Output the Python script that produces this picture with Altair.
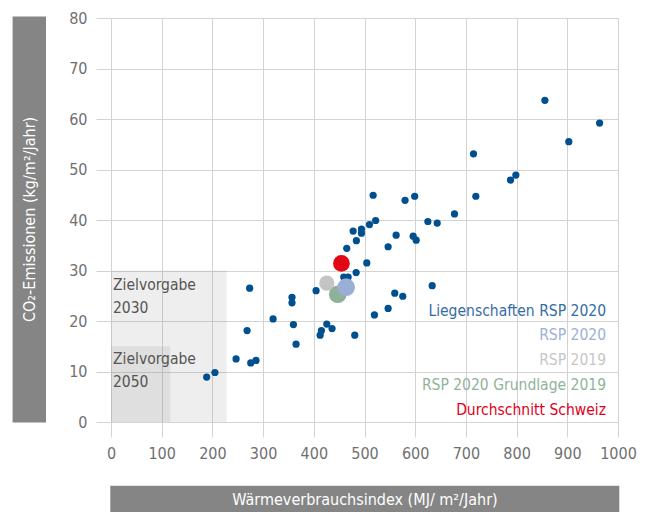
import altair as alt
import pandas as pd

# Liegenschaften RSP 2020 (Wärmeverbrauchsindex MJ/m2/Jahr, CO2 kg/m2/Jahr)
wvi = [188.7, 205, 246.7, 275.6, 286, 268.4, 273.5, 319.7, 357, 357, 359.8, 365,
       404.5, 412.5, 415, 425.6, 436, 459, 467.7, 465, 477.6, 484, 483.5, 480.8,
       494, 494, 504.5, 509.8, 517, 522, 519.6, 546.6, 546.6, 559.7, 562.4, 575.5,
       580, 596, 602, 599, 625, 633.5, 643.4, 677.5, 715, 719.6, 788, 798.5,
       855.8, 903, 963.7]
co2 = [8.9, 9.8, 12.5, 11.7, 12.2, 18.1, 26.5, 20.4, 24.7, 23.6, 19.3, 15.4,
       26.0, 17.2, 18.1, 19.4, 18.5, 28.7, 28.7, 34.4, 37.8, 35.9, 29.6, 17.2,
       38.2, 37.4, 31.5, 39.1, 44.9, 39.9, 21.2, 22.5, 34.7, 25.5, 37.0, 24.9,
       43.9, 36.8, 36.0, 44.7, 39.7, 27.0, 39.4, 41.2, 53.1, 44.7, 47.9, 48.9,
       63.7, 55.5, 59.2]

# Summary points
sum_names = ["RSP 2020 Grundlage 2019", "RSP 2019", "RSP 2020", "Durchschnitt Schweiz"]
sum_wvi = [447.3, 425.6, 463.7, 454.5]
sum_co2 = [25.3, 27.5, 26.7, 31.4]

legend_labels = ["Liegenschaften RSP 2020", "RSP 2020", "RSP 2019",
                 "RSP 2020 Grundlage 2019", "Durchschnitt Schweiz"]
legend_colors = ["#356ca6", "#9db0d5", "#c6c6c6", "#8fb39b", "#e2001a"]
sum_colors = {"RSP 2020 Grundlage 2019": "#8fb09a", "RSP 2019": "#c4c4c4",
              "RSP 2020": "#9aafd6", "Durchschnitt Schweiz": "#e30613"}

# Target boxes
targets = ["Zielvorgabe\n2030", "Zielvorgabe\n2050"]
target_x = [228, 117]
target_y = [30, 15]

x_ticks = list(range(0, 1001, 100))
y_ticks = list(range(0, 81, 10))

FONT = "DejaVu Sans Condensed, sans-serif"
GRID = "#d3d3d3"

pts = pd.DataFrame({"wvi": wvi, "co2": co2})
one = pd.DataFrame({"a": [0]})

xs = alt.Scale(domain=[0, 1000], nice=False, zero=False)
ys = alt.Scale(domain=[0, 80], nice=False, zero=False)

x_axis = alt.Axis(values=x_ticks, title=None, grid=True, gridColor=GRID, domain=False,
                  tickColor=GRID, tickSize=15, labelPadding=8, labelFontSize=16,
                  labelColor="#707070", labelFont=FONT, labelOverlap=False,
                  labelFlush=False, format="d", labelFontWeight=300)
y_axis = alt.Axis(values=y_ticks, title=None, grid=True, gridColor=GRID, domain=False,
                  tickColor=GRID, tickSize=15, labelPadding=9, labelFontSize=16,
                  labelColor="#707070", labelFont=FONT, labelOverlap=False,
                  labelFlush=False, format="d", labelFontWeight=300)

tdf = pd.DataFrame({"x0": [0, 0], "x1": target_x, "y0": [0, 0], "y1": target_y})
boxes = alt.Chart(tdf).mark_rect(color="#888888", opacity=0.14).encode(
    x=alt.X("x0:Q", scale=xs, axis=x_axis), x2="x1:Q",
    y=alt.Y("y0:Q", scale=ys, axis=y_axis), y2="y1:Q")

layers = [boxes]

# target labels
for lab, yb in zip(targets, [271.7, 345.7]):
    layers.append(alt.Chart(one).mark_text(
        align="left", baseline="alphabetic", font=FONT, fontSize=15.5,
        color="#555555", lineHeight=23).encode(
        x=alt.value(2), y=alt.value(yb), text=alt.value(lab.split("\n"))))

layers.append(alt.Chart(pts).mark_circle(size=52, color="#004f8f", opacity=1).encode(
    x=alt.X("wvi:Q", scale=xs), y=alt.Y("co2:Q", scale=ys)))

for n, xv, yv in zip(sum_names, sum_wvi, sum_co2):
    size = 280 if n == "Durchschnitt Schweiz" else (230 if n == "RSP 2019" else 310)
    layers.append(alt.Chart(pd.DataFrame({"wvi": [xv], "co2": [yv]})).mark_circle(
        size=size, color=sum_colors[n], opacity=1).encode(
        x=alt.X("wvi:Q", scale=xs), y=alt.Y("co2:Q", scale=ys)))

for i, (lab, col) in enumerate(zip(legend_labels, legend_colors)):
    layers.append(alt.Chart(one).mark_text(
        align="right", baseline="alphabetic", font=FONT, fontSize=15.5, color=col).encode(
        x=alt.value(495), y=alt.value(297.7 + i * 24.7), text=alt.value(lab)))

# axis title boxes
layers.append(alt.Chart(one).mark_rect(color="#858585").encode(
    x=alt.value(-98.4), x2=alt.value(-65), y=alt.value(-1.6), y2=alt.value(404.4)))
layers.append(alt.Chart(one).mark_text(
    angle=270, align="center", baseline="middle", font=FONT, fontSize=16,
    color="white").encode(x=alt.value(-81), y=alt.value(201.4),
                          text=alt.value("CO₂-Emissionen (kg/m²/Jahr)")))
layers.append(alt.Chart(one).mark_rect(color="#858585").encode(
    x=alt.value(-0.7), x2=alt.value(508.3), y=alt.value(467.7), y2=alt.value(497)))
layers.append(alt.Chart(one).mark_text(
    align="center", baseline="middle", font=FONT, fontSize=16,
    color="white").encode(x=alt.value(254), y=alt.value(482),
                          text=alt.value("Wärmeverbrauchsindex (MJ/ m²/Jahr)")))

chart = alt.layer(*layers).properties(
    width=507, height=404,
    autosize=alt.AutoSizeParams(type="none"),
    padding={"left": 103, "top": 10, "right": 20, "bottom": 90},
).configure_view(stroke=None)

chart.save("out.html", embed_options={"renderer": "svg", "actions": False})
